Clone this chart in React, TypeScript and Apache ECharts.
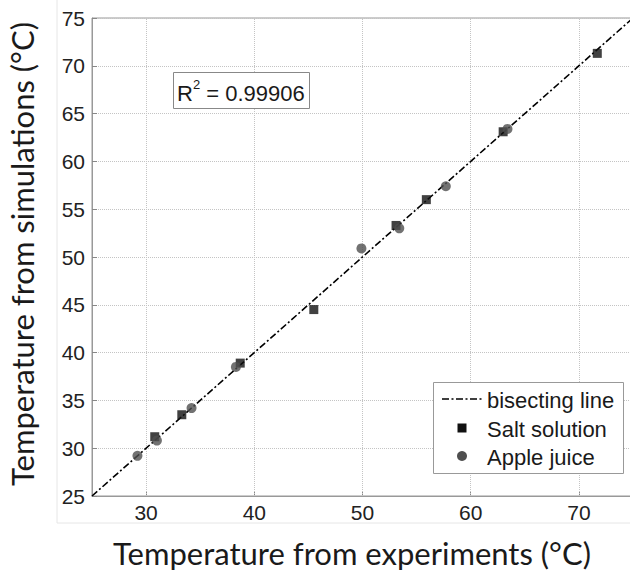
import React, { useEffect, useRef } from "react";
import * as echarts from "echarts";

const xTickValues = [30, 40, 50, 60, 70];
const bisectX = [25, 75];
const bisectY = [25, 75];
const saltX = [30.8, 33.3, 38.7, 45.5, 53.1, 55.9, 63.0, 71.7];
const saltY = [31.2, 33.5, 38.9, 44.5, 53.3, 56.0, 63.1, 71.3];
const appleX = [29.2, 31.0, 34.2, 38.3, 49.9, 53.4, 57.7, 63.4];
const appleY = [29.2, 30.8, 34.2, 38.5, 50.9, 53.0, 57.4, 63.4];
const legendLabels = ["bisecting line", "Salt solution", "Apple juice"];
const r2Text = "0.99906";
const xTitle = "Temperature from experiments (°C)";
const yTitle = "Temperature from simulations (°C)";

const FONT = "'Liberation Sans', Arial, sans-serif";
const TITLE_FONT = "Lato, 'Open Sans', sans-serif";

export default function App() {
  const ref = useRef<HTMLDivElement>(null);
  useEffect(() => {
    if (!ref.current) return;
    const chart = echarts.init(ref.current, undefined, { renderer: "svg" });
    const zip = (xs: number[], ys: number[]) => xs.map((x, i) => [x, ys[i]]);
    chart.setOption({
      animation: false,
      backgroundColor: "#fff",
      grid: {
        left: 92,
        top: 18,
        right: 7,
        bottom: 76,
        show: true,
        borderColor: "#999",
        borderWidth: 1,
        backgroundColor: "transparent",
      },
      xAxis: {
        type: "value",
        min: 25,
        max: 75,
        axisLine: { show: true, lineStyle: { color: "#999", width: 1 } },
        axisTick: {
          show: true,
          inside: true,
          length: 5,
          customValues: xTickValues,
          lineStyle: { color: "#888" },
        },
        axisLabel: {
          customValues: xTickValues,
          fontFamily: FONT,
          fontSize: 21,
          color: "#222",
          margin: 6,
        },
        splitLine: { show: false },
      },
      yAxis: {
        type: "value",
        min: 25,
        max: 75,
        interval: 5,
        axisLine: { show: true, lineStyle: { color: "#999", width: 1 } },
        axisTick: { show: true, inside: true, length: 5, lineStyle: { color: "#888" } },
        axisLabel: {
          fontFamily: FONT,
          fontSize: 21,
          color: "#222",
          margin: 7,
        },
        splitLine: {
          show: true,
          lineStyle: { color: "#c4c4c4", type: "dotted", width: 1 },
        },
      },
      series: [
        {
          type: "line",
          name: legendLabels[0],
          data: zip(bisectX, bisectY),
          showSymbol: false,
          symbol: "none",
          lineStyle: { color: "#000", width: 1.6, type: [7, 2.5, 2, 2.5] },
          silent: true,
          z: 2,
          markLine: {
            silent: true,
            symbol: ["none", "none"],
            label: { show: false },
            lineStyle: { color: "#c4c4c4", type: "dotted", width: 1 },
            data: xTickValues.map((v) => ({ xAxis: v })),
            z: 1,
          },
        },
        {
          type: "scatter",
          name: legendLabels[1],
          data: zip(saltX, saltY),
          symbol: "rect",
          symbolSize: 9,
          itemStyle: { color: "#111" },
          z: 3,
        },
        {
          type: "scatter",
          name: legendLabels[2],
          data: zip(appleX, appleY),
          symbol: "circle",
          symbolSize: 10,
          itemStyle: { color: "#4f4f4f" },
          z: 3,
        },
      ],
      graphic: [
        {
          type: "line",
          shape: { x1: 57, y1: 0, x2: 57, y2: 523 },
          style: { stroke: "#e6e6e6", lineWidth: 1 },
          z: 0,
        },
        {
          type: "line",
          shape: { x1: 57, y1: 523, x2: 640, y2: 523 },
          style: { stroke: "#e6e6e6", lineWidth: 1 },
          z: 0,
        },
        {
          type: "text",
          x: 352,
          y: 553,
          style: {
            text: xTitle,
            fontFamily: TITLE_FONT,
            fontSize: 31,
            fill: "#1a1a1a",
            align: "center",
            verticalAlign: "middle",
          },
        },
        {
          type: "text",
          x: 22,
          y: 254,
          rotation: Math.PI / 2,
          style: {
            text: yTitle,
            fontFamily: TITLE_FONT,
            fontSize: 31,
            fill: "#1a1a1a",
            align: "center",
            verticalAlign: "middle",
          },
        },
        {
          type: "rect",
          shape: { x: 173.5, y: 72.5, width: 136, height: 36 },
          style: { fill: "#fff", stroke: "#888", lineWidth: 1 },
          z: 10,
        },
        {
          type: "text",
          x: 177,
          y: 91,
          z: 11,
          style: {
            text: "{a|R}{s|2}{a| = " + r2Text + "}",
            fontFamily: FONT,
            verticalAlign: "middle",
            rich: {
              a: { fontFamily: FONT, fontSize: 22, fill: "#1a1a1a", lineHeight: 26, verticalAlign: "bottom" },
              s: { fontFamily: FONT, fontSize: 13, fill: "#1a1a1a", lineHeight: 26, verticalAlign: "top" },
            },
          },
        },
        {
          type: "rect",
          shape: { x: 433.5, y: 382.5, width: 190, height: 91 },
          style: { fill: "#fff", stroke: "#999", lineWidth: 1 },
          z: 10,
        },
        {
          type: "line",
          shape: { x1: 442, y1: 399, x2: 483, y2: 399 },
          style: { stroke: "#000", lineWidth: 1.6, lineDash: [7, 2.5, 2, 2.5] },
          z: 11,
        },
        {
          type: "text",
          x: 487,
          y: 400,
          z: 11,
          style: { text: legendLabels[0], fontFamily: FONT, fontSize: 22, fill: "#1a1a1a", verticalAlign: "middle" },
        },
        {
          type: "rect",
          shape: { x: 457.5, y: 423.5, width: 9, height: 9 },
          style: { fill: "#111" },
          z: 11,
        },
        {
          type: "text",
          x: 487,
          y: 429,
          z: 11,
          style: { text: legendLabels[1], fontFamily: FONT, fontSize: 22, fill: "#1a1a1a", verticalAlign: "middle" },
        },
        {
          type: "circle",
          shape: { cx: 462, cy: 456, r: 5 },
          style: { fill: "#4f4f4f" },
          z: 11,
        },
        {
          type: "text",
          x: 487,
          y: 457,
          z: 11,
          style: { text: legendLabels[2], fontFamily: FONT, fontSize: 22, fill: "#1a1a1a", verticalAlign: "middle" },
        },
      ],
    });
    return () => chart.dispose();
  }, []);
  return (
    <div
      ref={ref}
      style={{ position: "fixed", left: 0, top: 0, width: 640, height: 572, background: "#fff" }}
    />
  );
}
